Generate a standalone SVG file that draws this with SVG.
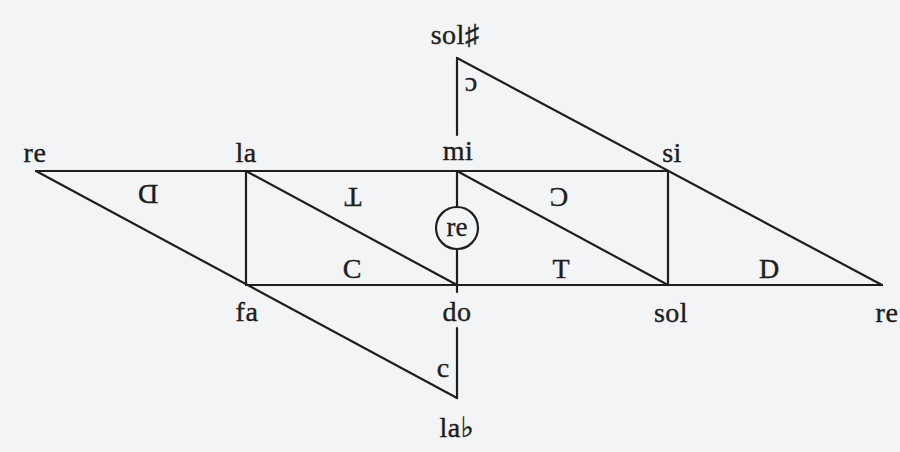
<svg xmlns="http://www.w3.org/2000/svg" width="900" height="452" viewBox="0 0 900 452">
<style>
.ln{stroke:#1e1e1e;stroke-width:2.2;fill:none;stroke-linecap:round}
.nt{font-family:"Liberation Serif","DejaVu Serif",serif;font-size:28px;fill:#1e1e1e;stroke:#1e1e1e;stroke-width:0.4;text-anchor:middle;letter-spacing:0.5px}
.lt{font-family:"Liberation Serif","DejaVu Serif",serif;font-size:28px;fill:#1e1e1e;stroke:#1e1e1e;stroke-width:0.4;text-anchor:middle}
.sm{font-family:"Liberation Serif","DejaVu Serif",serif;font-size:27px;fill:#1e1e1e;stroke:#1e1e1e;stroke-width:0.3;text-anchor:middle}
</style>
<rect width="900" height="452" fill="#f3f4f5"/>
<g id="connectors">
<line class="ln" x1="36" y1="171" x2="668" y2="171"/>
<line class="ln" x1="246" y1="285" x2="882" y2="285"/>
<line class="ln" x1="36" y1="171" x2="457" y2="398"/>
<line class="ln" x1="457" y1="58" x2="882" y2="285"/>
<line class="ln" x1="246" y1="171" x2="246" y2="285"/>
<line class="ln" x1="668" y1="171" x2="668" y2="285"/>
<line class="ln" x1="246" y1="171" x2="457" y2="285"/>
<line class="ln" x1="457" y1="171" x2="668" y2="285"/>
<line class="ln" x1="457" y1="58" x2="457" y2="135"/>
<line class="ln" x1="457" y1="171" x2="457" y2="207"/>
<line class="ln" x1="457" y1="249" x2="457" y2="292"/>
<line class="ln" x1="457" y1="328" x2="457" y2="398"/>
</g>
<g id="node-re-left"><text class="nt" x="35" y="162">re</text></g>
<g id="node-la"><text class="nt" x="246" y="162">la</text></g>
<g id="node-mi"><text class="nt" x="458" y="160">mi</text></g>
<g id="node-si"><text class="nt" x="672" y="162">si</text></g>
<g id="node-solsharp"><text class="nt" x="455" y="44">sol♯</text></g>
<g id="node-fa"><text class="nt" x="247" y="321">fa</text></g>
<g id="node-do"><text class="nt" x="457" y="321">do</text></g>
<g id="node-sol"><text class="nt" x="671" y="322">sol</text></g>
<g id="node-re-right"><text class="nt" x="887" y="322">re</text></g>
<g id="node-laflat"><text class="nt" x="457" y="437">la♭</text></g>
<g id="node-re-circle">
<circle class="ln" cx="457" cy="228" r="21"/>
<text class="sm" x="457" y="236">re</text>
</g>
<g id="labels">
<text class="lt" x="148" y="203.5" transform="rotate(180 148 194)">D</text>
<text class="lt" x="353" y="206.5" transform="rotate(180 353 197)">T</text>
<text class="lt" x="352" y="277.5">C</text>
<text class="lt" x="559" y="206.5" transform="rotate(180 559 197)">C</text>
<text class="lt" x="561" y="277.5">T</text>
<text class="lt" x="769" y="277.5">D</text>
<text class="lt" x="471" y="92" transform="rotate(180 471 85)">c</text>
<text class="lt" x="443" y="377">c</text>
</g>
</svg>
